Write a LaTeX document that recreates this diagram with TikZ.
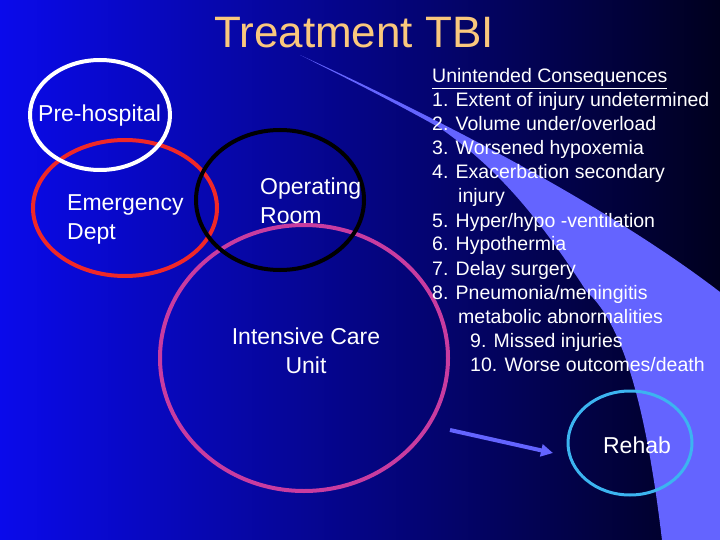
\documentclass[tikz,border=0pt]{standalone}
\usepackage{fontspec}
\setmainfont{Liberation Sans}
\usetikzlibrary{arrows.meta}
\definecolor{swoosh}{RGB}{100,100,255}
\definecolor{ttl}{RGB}{250,200,125}
\definecolor{icu}{RGB}{200,60,160}
\definecolor{er}{RGB}{240,40,40}
\definecolor{reh}{RGB}{60,180,240}
\begin{document}
\begin{tikzpicture}[x=1pt,y=-1pt,
  txt/.style={text=white,font=\fontsize{19.5}{19.5}\selectfont,inner sep=0pt,anchor=base west},
  lbl/.style={text=white,font=\fontsize{23}{29}\selectfont,inner sep=0pt,align=left},
  ring/.style={line width=4pt}]
\useasboundingbox (0,0) rectangle (720,540);
\shade[left color={rgb,255:red,10;green,10;blue,235}, middle color={rgb,255:red,0;green,0;blue,150}, right color={rgb,255:red,0;green,0;blue,30}] (0,0) rectangle (720,540);
\fill[swoosh] (300,55) .. controls (420,110) and (600,200) .. (720,292) -- (720,540) -- (662,540)
  .. controls (650,440) and (630,330) .. (587,292) .. controls (540,220) and (500,170) .. (440,128) .. controls (390,100) and (340,75) .. (300,55);
\node[text=ttl,font=\fontsize{44}{44}\selectfont,inner sep=0pt] (title) at (354,33) {Treatment TBI};
\draw[ring,icu] (304,358) ellipse [x radius=144,y radius=133];
\draw[ring,er] (125,208) ellipse [x radius=92,y radius=68];
\draw[ring,black] (280,200) ellipse [x radius=84,y radius=70];
\draw[ring,white] (100,115) ellipse [x radius=70,y radius=55];
\draw[ring,reh,line width=3pt] (630,443) ellipse [x radius=62,y radius=52];
\node[lbl,anchor=west] (pre) at (38,116) {Pre-hospital};
\node[lbl,anchor=west] (ed) at (67,219) {Emergency\\Dept};
\node[lbl,anchor=west] (or) at (260,201) {Operating\\Room};
\node[lbl,align=center] (icul) at (306,351) {Intensive Care\\Unit};
\node[lbl] (rehab) at (637,445) {Rehab};
\coordinate (a1) at (450,430);
\coordinate (a2) at (553,453);
\draw[swoosh,line width=4pt,-{Triangle[length=12pt,width=12pt]}] (a1) -- (a2);
\node[txt] (h) at (432,83) {\underline{Unintended Consequences}};
\node[txt] at (432,107) {1. Extent of injury undetermined};
\node[txt] at (432,131) {2. Volume under/overload};
\node[txt] at (432,155) {3. Worsened hypoxemia};
\node[txt] at (432,179) {4. Exacerbation secondary};
\node[txt] at (458,203) {injury};
\node[txt] at (432,227) {5. Hyper/hypo -ventilation};
\node[txt] at (432,251) {6. Hypothermia};
\node[txt] at (432,275) {7. Delay surgery};
\node[txt] at (432,299) {8. Pneumonia/meningitis};
\node[txt] at (458,323) {metabolic abnormalities};
\node[txt] at (470,347) {9. Missed injuries};
\node[txt] at (470,371) {10. Worse outcomes/death};
\end{tikzpicture}
\end{document}
